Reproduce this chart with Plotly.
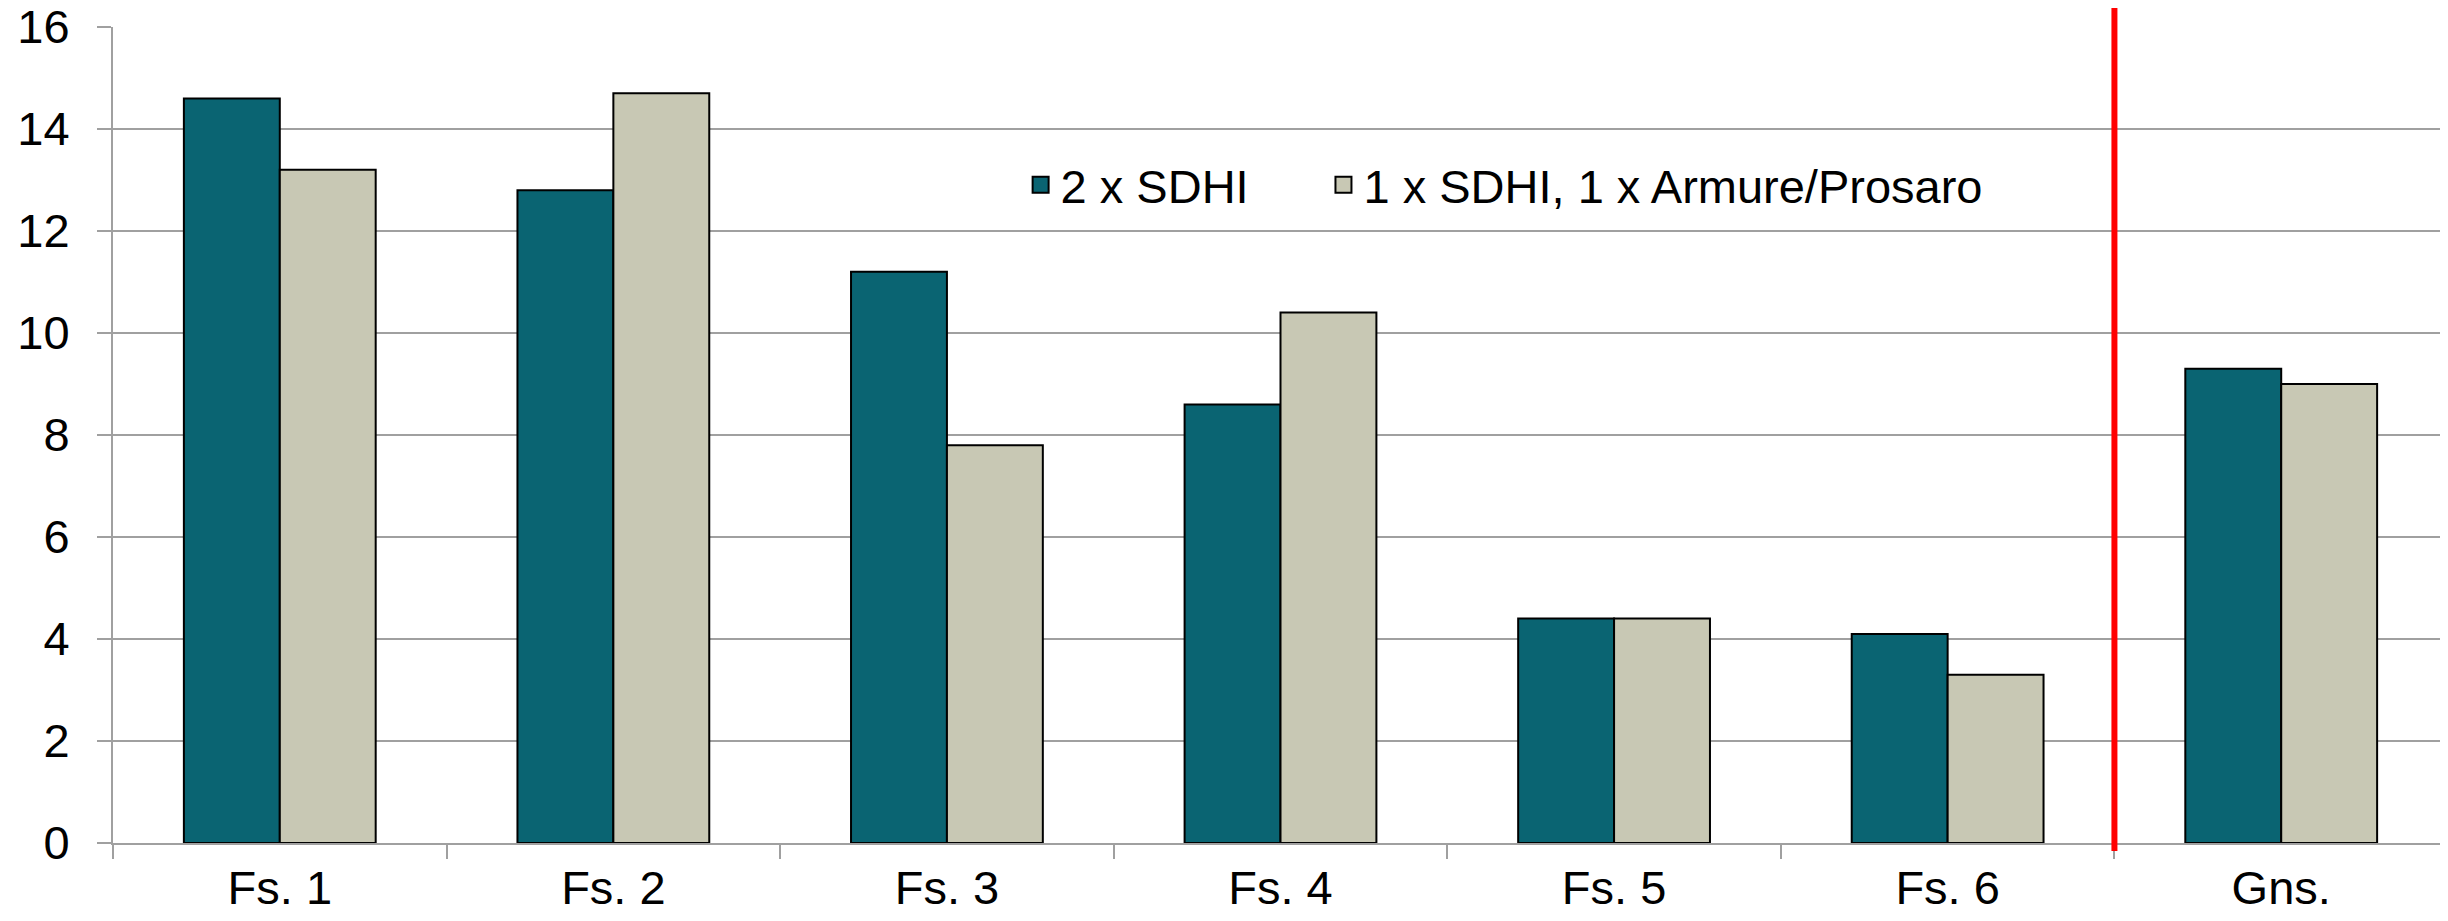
import plotly.graph_objects as go

categories = ["Fs. 1", "Fs. 2", "Fs. 3", "Fs. 4", "Fs. 5", "Fs. 6", "Gns."]
series_names = ["2 x SDHI", "1 x SDHI, 1 x Armure/Prosaro"]
sdhi2 = [14.6, 12.8, 11.2, 8.6, 4.4, 4.1, 9.3]
sdhi_armure = [13.2, 14.7, 7.8, 10.4, 4.4, 3.3, 9.0]
y_ticks = [0, 2, 4, 6, 8, 10, 12, 14, 16]

teal = "#0A6472"
beige = "#C8C8B4"
grid = "#A0A0A0"
font = "Liberation Sans, Arial, sans-serif"

fig = go.Figure()
fig.add_trace(go.Bar(x=categories, y=sdhi2, name=series_names[0], showlegend=False,
                     marker=dict(color=teal, line=dict(color="black", width=2))))
fig.add_trace(go.Bar(x=categories, y=sdhi_armure, name=series_names[1], showlegend=False,
                     marker=dict(color=beige, line=dict(color="black", width=2))))
# legend entries with larger square swatches
for name, col, lg in zip(series_names, [teal, beige], ["legend", "legend2"]):
    fig.add_trace(go.Scatter(x=[None], y=[None], mode="markers", name=name, legend=lg,
                             marker=dict(symbol="square", size=24, color=col,
                                         line=dict(color="black", width=2))))

fig.add_shape(type="line", xref="x", yref="paper", x0=5.5, x1=5.5, y0=-0.0098, y1=1.03,
              line=dict(color="#FF0000", width=6), layer="above")

legend_style = dict(orientation="h", y=0.806, xanchor="left", yanchor="middle",
                    bgcolor="rgba(0,0,0,0)", font=dict(size=47, family=font))

fig.update_layout(
    width=2440, height=913,
    margin=dict(l=105, r=0, t=19, b=78, autoexpand=False),
    paper_bgcolor="white", plot_bgcolor="white",
    barmode="group", bargap=0.425, bargroupgap=0,
    font=dict(family=font, size=47, color="black"),
    showlegend=True,
    legend=dict(x=0.3887, **legend_style),
    legend2=dict(x=0.5184, **legend_style),
    xaxis=dict(type="category", range=[-0.5, 6.5], showgrid=False, automargin=False,
               showline=True, linecolor=grid, linewidth=2,
               ticks="outside", tickson="boundaries", ticklen=14, tickwidth=2, tickcolor=grid,
               tickfont=dict(size=47, family=font), ticklabelstandoff=3,
               ticklabeloverflow="allow"),
    yaxis=dict(range=[0, 16], tickvals=y_ticks, showgrid=True, gridcolor=grid, gridwidth=2,
               automargin=False,
               showline=True, linecolor=grid, linewidth=2, zeroline=False,
               ticks="outside", ticklen=14, tickwidth=2, tickcolor=grid,
               tickfont=dict(size=47, family=font), ticklabelstandoff=18,
               ticklabeloverflow="allow"),
)

fig.write_html("out.html")
